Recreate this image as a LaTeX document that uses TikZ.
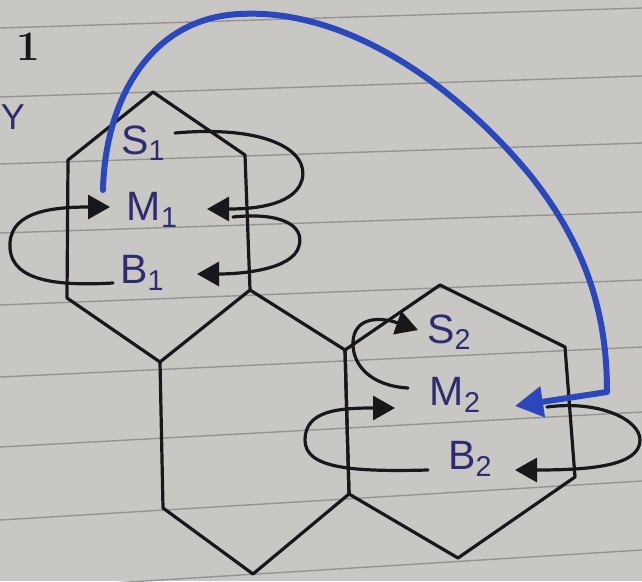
\documentclass[tikz,border=0pt]{standalone}
\usepackage{fontspec}
\usepackage{graphicx}
\newfontfamily\handfont{Liberation Sans}
\usetikzlibrary{arrows.meta}
\definecolor{paper}{RGB}{201,199,195}
\definecolor{ruling}{RGB}{150,148,146}
\definecolor{pen}{RGB}{24,24,26}
\definecolor{ink}{RGB}{44,44,112}
\definecolor{bluepen}{RGB}{42,72,188}
\newcommand\lowsub[1]{\raisebox{-0.3ex}{\scalebox{0.7}{#1}}}
\begin{document}
\begin{tikzpicture}[x=1pt,y=-1pt,
  hexline/.style={draw=pen,line width=3.2pt,line join=round},
  loopline/.style={draw=pen,line width=3.2pt,line cap=round,
    -{Triangle[length=22pt,width=24pt]}},
  bluelink/.style={draw=bluepen,line width=6pt,line cap=round,line join=round,
    -{Triangle[length=28pt,width=30pt]}},
  statelabel/.style={text=ink,font=\handfont\fontsize{41}{41}\selectfont,inner sep=0pt},
  marginnote/.style={text=ink,font=\handfont\fontsize{36}{36}\selectfont,inner sep=0pt},
  ruleline/.style={draw=ruling,line width=1.4pt}]

% sheet of ruled paper
\fill[paper] (0,0) rectangle (642,581);
\useasboundingbox (0,0) rectangle (642,581);
\foreach \l/\r in {28/8,97/76,164/143,233/212,305/280,377/347,447/412,520/481,590/550}
  \draw[ruleline] (0,\l) -- (642,\r);

% margin notes
\node[text=pen,font=\bfseries\fontsize{42}{42}\selectfont,inner sep=0pt] (num) at (28,47) {1};
\node[marginnote] (cut) at (13,117) {Y};

% honeycomb cells
\draw[hexline] (153,92) -- (245,155) -- (250,290) -- (160,362) -- (67,298) -- (68,160) -- cycle;
\draw[hexline] (250,290) -- (345,350) -- (349,494) -- (253,574) -- (163,508) -- (160,362);
\draw[hexline] (440,285) -- (565,347) -- (575,477) -- (458,558) -- (349,494) -- (345,350) -- cycle;

% states
\node[statelabel] (S1) at (143,143) {S\lowsub{1}};
\node[statelabel] (M1) at (152,210) {M\lowsub{1}};
\node[statelabel] (B1) at (142,273) {B\lowsub{1}};
\node[statelabel] (S2) at (449,332) {S\lowsub{2}};
\node[statelabel] (M2) at (455,395) {M\lowsub{2}};
\node[statelabel] (B2) at (470,459) {B\lowsub{2}};

% transitions in the first cell
\draw[loopline] ([shift={(32,-10)}]S1.center)
  .. controls (265,125) and (310,150) .. (302,180)
  .. controls (294,208) and (245,209) .. ([shift={(55,-1)}]M1.center);
\draw[loopline] ([shift={(81,7)}]M1.center)
  .. controls (280,212) and (305,225) .. (299,246)
  .. controls (293,270) and (240,274) .. ([shift={(55,1)}]B1.center);
\draw[loopline] ([shift={(-29,10)}]B1.center)
  .. controls (60,286) and (12,282) .. (10,248)
  .. controls (8,214) and (45,207) .. ([shift={(-42,-3)}]M1.center);

% transitions in the second cell
\draw[loopline] ([shift={(-47,-7)}]M2.center)
  .. controls (372,386) and (352,366) .. (353,342)
  .. controls (354,318) and (378,316) .. ([shift={(-31,-2)}]S2.center);
\draw[loopline] ([shift={(-42,11)}]B2.center)
  .. controls (350,472) and (305,468) .. (305,440)
  .. controls (305,410) and (340,408) .. ([shift={(-60,13)}]M2.center);
\draw[loopline] ([shift={(92,12)}]M2.center)
  .. controls (600,400) and (640,420) .. (640,440)
  .. controls (640,466) and (590,470) .. ([shift={(45,11)}]B2.center);

% link between the two cells
\draw[bluelink] ([shift={(-49,-20)}]M1.center)
  .. controls (105,100) and (150,18) .. (240,14)
  .. controls (350,8) and (460,90) .. (530,175)
  .. controls (590,250) and (607,320) .. (607,392)
  -- ([shift={(60,11)}]M2.center);
\end{tikzpicture}
\end{document}
